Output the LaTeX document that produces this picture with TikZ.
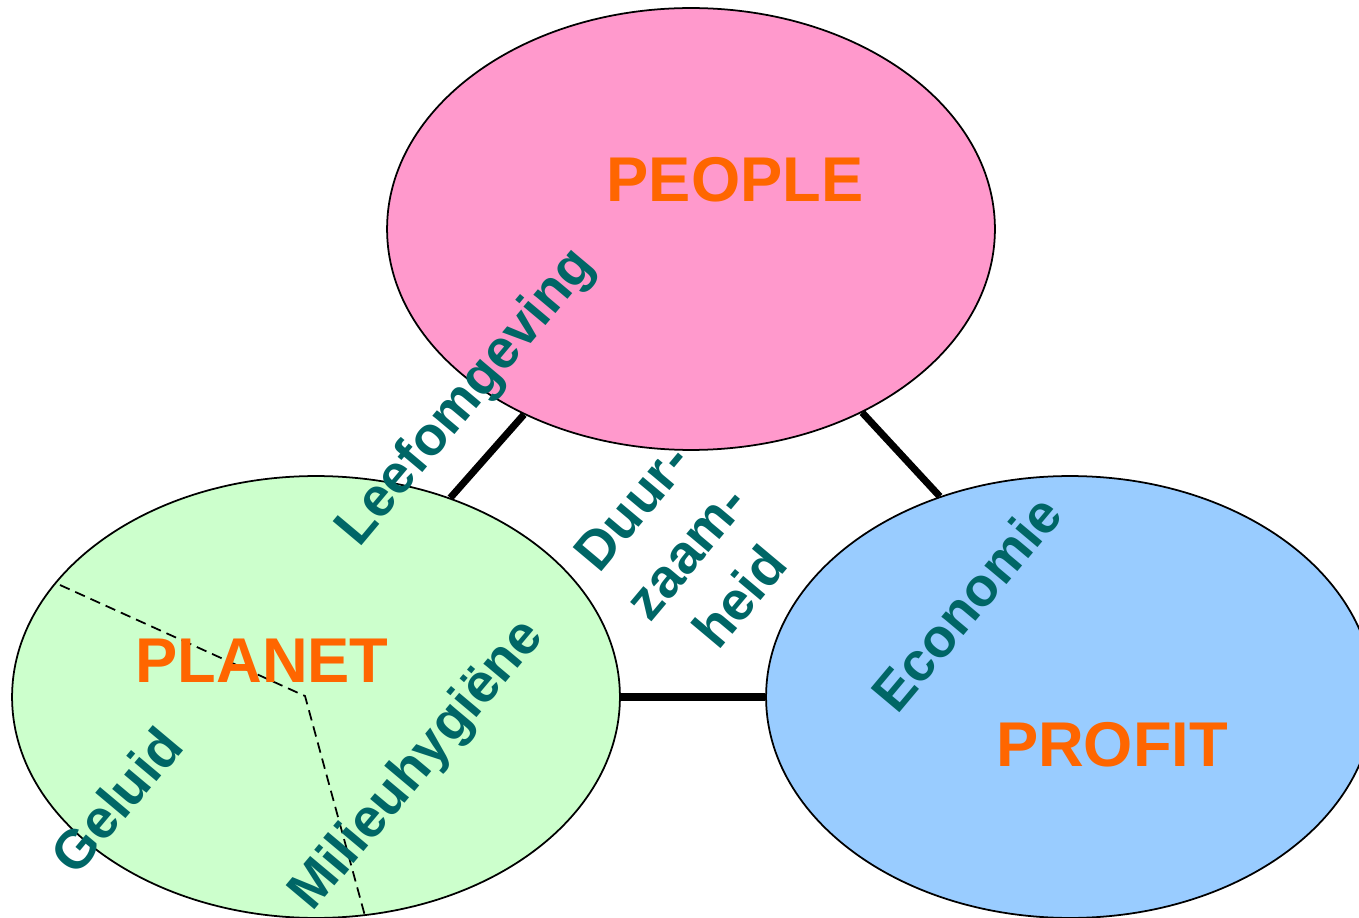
\documentclass[tikz,border=0pt]{standalone}
\usepackage{fontspec}
\setmainfont{Liberation Sans}
\usetikzlibrary{shapes,positioning}
\usepackage{xcolor}
\definecolor{peoplepink}{HTML}{FF99CC}
\definecolor{planetgreen}{HTML}{CCFFCC}
\definecolor{profitblue}{HTML}{99CCFF}
\definecolor{titleorange}{HTML}{FF6600}
\definecolor{wordteal}{HTML}{006666}

\begin{document}
\begin{tikzpicture}[x=0.02cm,y=-0.02cm]
      \tikzstyle{pillar} = [ellipse, draw, line width=1pt, inner sep=0pt, minimum width=12.16cm, minimum height=8.84cm]
      \tikzstyle{title} = [text=titleorange, font=\fontsize{36}{40}\selectfont\bfseries]
      \tikzstyle{aspect} = [text=wordteal, font=\fontsize{31}{40}\selectfont\bfseries, rotate=50, align=center]
      \tikzstyle{link} = [line width=4pt]

      \useasboundingbox (0,0) rectangle (1359,918);

      \node[pillar, fill=peoplepink] (people) at (691,229) {};
      \node[pillar, fill=planetgreen] (planet) at (316,697) {};
      \node[pillar, fill=profitblue] (profit) at (1070,697) {};

      \draw[link] (people.228) -- (planet.56);
      \draw[link] (people.313) -- (profit.123);
      \draw[link] (planet.east) -- (profit.west);

      \coordinate (split) at (305,696);
      \coordinate (edgeleft) at (60,585);
      \coordinate (edgebottom) at (365,916);
      \draw[dash pattern=on 6pt off 3.5pt, line width=1pt] (edgeleft) -- (split) -- (edgebottom);

      \node[title] (peopletitle) at (735,180) {PEOPLE};
      \node[title] (planettitle) at (262,661) {PLANET};
      \node[title] (profittitle) at (1112,745) {PROFIT};

      \node[aspect] (leef) at (467,398) {Leefomgeving};
      \node[aspect] (duur) at (686,552) {Duur-\\zaam-\\heid};
      \node[aspect] (econ) at (966,603) {Economie};
      \node[aspect] (geluid) at (116,800) {Geluid};
      \node[aspect] (milieu) at (418,766) {Milieuhygiëne};
    \end{tikzpicture}
\end{document}
